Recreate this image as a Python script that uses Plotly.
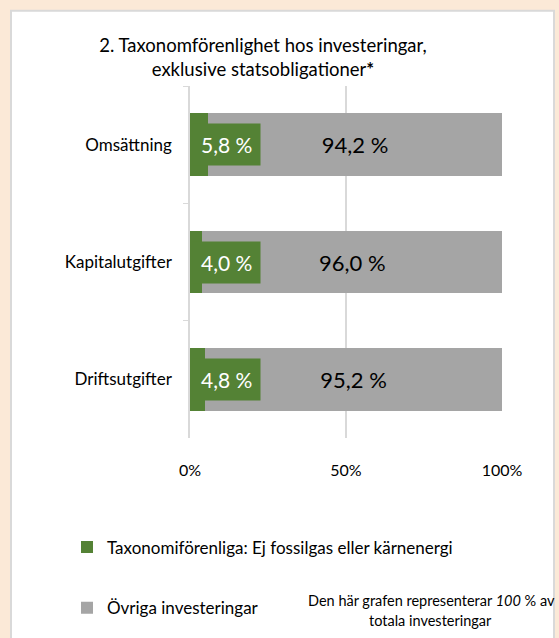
import plotly.graph_objects as go

# Kategorier och andelar (procent)
kategorier = ["Omsättning", "Kapitalutgifter", "Driftsutgifter"]
taxonomiforenliga = [5.8, 4.0, 4.8]
ovriga = [94.2, 96.0, 95.2]
x_ticks = [0, 50, 100]
x_ticktext = ["0%", "50%", "100%"]

serie_namn = ["Taxonomiförenliga: Ej fossilgas eller kärnenergi", "Övriga investeringar"]

GRON = "#548235"
GRA = "#A5A5A5"
LINJE = "#D9D9D9"
BEIGE = "#FBE9D7"
FONT = "Lato"

W, H = 559, 638
L, R, T, B = 190, 57, 86, 192
pw, ph = W - L - R, H - T - B


def px_x(x):
    return (x - L) / pw


def px_y(y):
    return (H - B - y) / ph


def fmt(v):
    return f"{v:.1f}".replace(".", ",") + " %"


fig = go.Figure()

fig.add_trace(go.Bar(
    y=kategorier, x=taxonomiforenliga, orientation="h", name=serie_namn[0],
    marker=dict(color=GRON, line=dict(width=0)), legend="legend",
    textposition="none", hoverinfo="skip",
))
fig.add_trace(go.Bar(
    y=kategorier, x=ovriga, orientation="h", name=serie_namn[1],
    marker=dict(color=GRA, line=dict(width=0)), legend="legend2",
    text=[fmt(v) for v in ovriga], textposition="inside", insidetextanchor="middle",
    textfont=dict(family=FONT, size=22, color="black"), hoverinfo="skip",
))

# Etiketter för den gröna serien (grön ruta med vit text)
for kat, v in zip(kategorier, taxonomiforenliga):
    fig.add_annotation(
        x=0, y=kat, xref="x", yref="y", text=fmt(v), showarrow=False,
        xanchor="left", xshift=2, bgcolor=GRON, borderpad=8,
        font=dict(family=FONT, size=21, color="white"),
    )

# Vit panel med grå ram
fig.add_shape(
    type="rect", xref="paper", yref="paper", layer="below",
    x0=px_x(11), x1=px_x(554), y0=px_y(660), y1=px_y(9),
    fillcolor="white", line=dict(color=LINJE, width=2),
)

fig.add_annotation(
    xref="paper", yref="paper", x=px_x(431), y=px_y(612),
    xanchor="center", yanchor="middle",
    text="Den här grafen representerar <i>100</i> % av", showarrow=False,
    font=dict(family=FONT, size=14.5, color="black"),
)
fig.add_annotation(
    xref="paper", yref="paper", x=px_x(430), y=px_y(633),
    xanchor="center", yanchor="middle",
    text="totala investeringar", showarrow=False,
    font=dict(family=FONT, size=14.5, color="black"),
)

fig.update_layout(
    width=W, height=H,
    margin=dict(l=L, r=R, t=T, b=B),
    paper_bgcolor=BEIGE, plot_bgcolor="rgba(0,0,0,0)",
    barmode="stack", bargap=0.467, showlegend=True,
    font=dict(family=FONT, size=17, color="black"),
    title=dict(
        text="2. Taxonomförenlighet hos investeringar,<br>exklusive statsobligationer<b>*</b>",
        x=263 / W, xanchor="center", xref="container",
        y=1 - 52 / H, yanchor="top", yref="container",
        font=dict(family=FONT, size=18.5, color="black"),
    ),
    xaxis=dict(
        range=[0, 100], tickvals=x_ticks, ticktext=x_ticktext,
        showgrid=True, gridcolor=LINJE, gridwidth=1.5,
        zeroline=False, showline=False, ticks="",
        ticklabelstandoff=21, tickfont=dict(size=16),
    ),
    yaxis=dict(
        categoryorder="array", categoryarray=kategorier, autorange="reversed",
        showline=True, linecolor=LINJE, linewidth=1.5,
        ticks="outside", tickson="boundaries", ticklen=5, tickcolor=LINJE,
        ticklabelstandoff=13, tickfont=dict(size=17), showgrid=False,
    ),
    legend=dict(
        x=px_x(67), y=px_y(558), xanchor="left", yanchor="middle",
        bgcolor="rgba(0,0,0,0)", font=dict(size=17), itemclick=False,
    ),
    legend2=dict(
        x=px_x(67), y=px_y(620), xanchor="left", yanchor="middle",
        bgcolor="rgba(0,0,0,0)", font=dict(size=17), itemclick=False,
    ),
)

# Sidan ska inte ha någon marginal runt figuren
fig.write_html(
    "out.html",
    config={"displayModeBar": False},
    post_script="document.body.style.margin='0';document.body.style.background='%s';" % BEIGE,
)
